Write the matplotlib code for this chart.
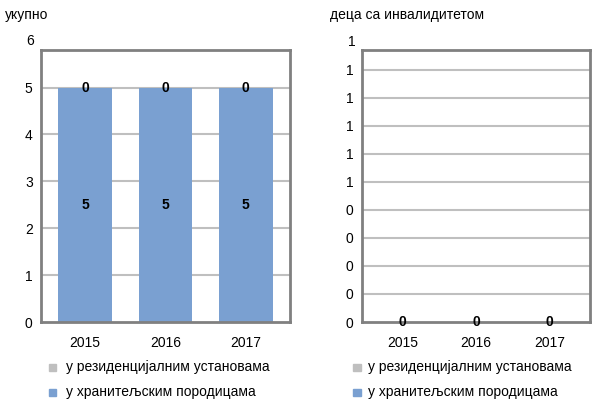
import matplotlib
matplotlib.use('Agg')
import matplotlib.pyplot as plt
import numpy as np
from matplotlib.transforms import blended_transform_factory

plt.rcParams['font.family'] = ['Liberation Sans', 'DejaVu Sans']

years = ['2015', '2016', '2017']
series_names = ['у резиденцијалним установама', 'у хранитељским породицама']
total_foster = [5, 5, 5]
total_resid = [0, 0, 0]
dis_foster = [0, 0, 0]
dis_resid = [0, 0, 0]

total_ticks = [0, 1, 2, 3, 4, 5, 6]
dis_ticks = [0, 0.1, 0.2, 0.3, 0.4, 0.5, 0.6, 0.7, 0.8, 0.9, 1.0]
dis_ticklabels = ['0', '0', '0', '0', '0', '1', '1', '1', '1', '1', '1']

blue = '#7aa0d1'
gray = '#bfbfbf'
frame = '#808080'
fs = 10

fig = plt.figure(figsize=(6, 4), dpi=100)
ax1 = fig.add_axes([41/600, 78/400, 249/600, 272/400])
ax2 = fig.add_axes([362/600, 78/400, 228/600, 272/400])

x = np.arange(len(years))
width = 0.67


def style(ax, ticks, labels, top):
    ax.set_ylim(0, top)
    ax.set_xlim(-0.55, 2.55)
    for t in ticks:
        if 0 < t <= top:
            ax.axhline(t, color=gray, lw=1.5, zorder=0)
    vis = [(t, l) for t, l in zip(ticks, labels) if t <= top]
    ax.set_yticks([t for t, l in vis])
    ax.set_yticklabels([l for t, l in vis])
    # the top tick label sits above the frame
    tr = blended_transform_factory(ax.transAxes, ax.transData)
    for t, l in zip(ticks, labels):
        if t > top:
            ax.text(-0.03, t, l, transform=tr, ha='right', va='center', fontsize=fs)
    ax.set_xticks(x)
    ax.set_xticklabels(years)
    ax.tick_params(axis='y', length=0, labelsize=fs, pad=6)
    ax.tick_params(axis='x', length=0, labelsize=fs, pad=10)
    for s in ax.spines.values():
        s.set_color(frame)
        s.set_linewidth(2)


# укупно
ax1.bar(x, total_foster, width, color=blue, zorder=2)
ax1.bar(x, total_resid, width, bottom=total_foster, color=gray, zorder=2)
for i in range(len(years)):
    ax1.text(x[i], total_foster[i] / 2, str(total_foster[i]), ha='center', va='center',
             fontsize=fs, fontweight='bold')
    ax1.text(x[i], total_foster[i] + total_resid[i], str(total_resid[i]), ha='center',
             va='center', fontsize=fs, fontweight='bold')
style(ax1, total_ticks, [str(t) for t in total_ticks], 5.8)

# деца са инвалидитетом
ax2.bar(x, dis_foster, width, color=blue, zorder=2)
ax2.bar(x, dis_resid, width, bottom=dis_foster, color=gray, zorder=2)
for i in range(len(years)):
    ax2.text(x[i], dis_foster[i] + dis_resid[i], str(dis_resid[i]), ha='center',
             va='center', fontsize=fs, fontweight='bold', clip_on=False)
style(ax2, dis_ticks, dis_ticklabels, 0.97)

fig.text(5/600, 1 - 15/400, 'укупно', fontsize=fs, va='center')
fig.text(330/600, 1 - 15/400, 'деца са инвалидитетом', fontsize=fs, va='center')

# legends
for lx, tx in [(52, 66), (357, 368)]:
    for row, (name, col) in enumerate(zip(series_names, [gray, blue])):
        y = 1 - (367 + 25 * row) / 400
        fig.patches.append(plt.Rectangle((lx/600 - 3.5/600, y - 3.5/400), 7/600, 7/400,
                                         transform=fig.transFigure, color=col))
        fig.text(tx/600, y, name, fontsize=fs, va='center')

fig.savefig('out.png', dpi=100)
